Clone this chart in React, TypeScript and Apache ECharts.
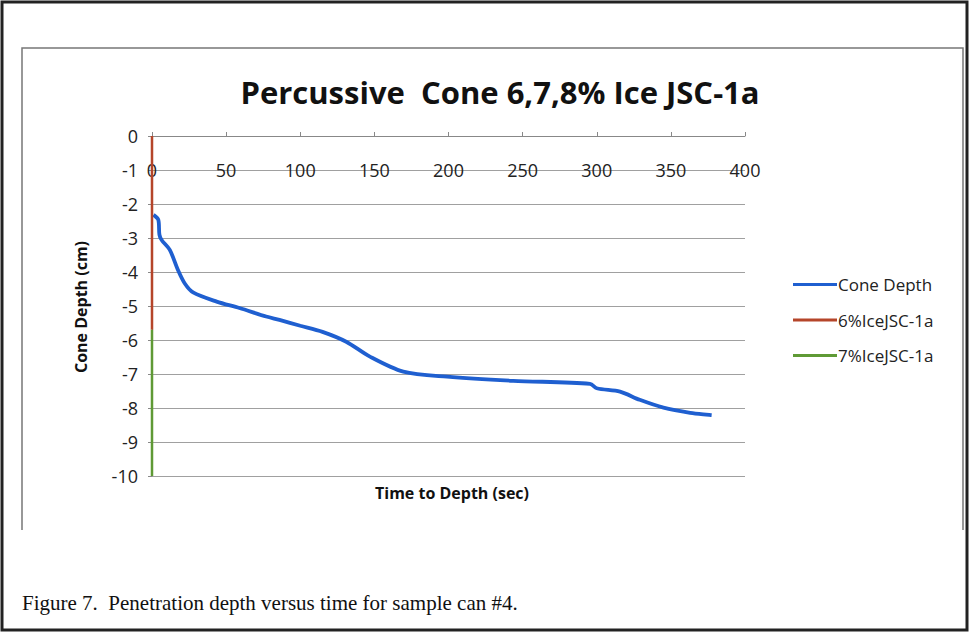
import React, { useEffect, useRef } from "react";
import * as echarts from "echarts";

const coneTime = [1, 4.3, 5, 6.5, 12, 17.5, 22, 27.7, 43.6, 59, 77, 86, 100, 115, 131, 147, 169.5, 199, 243.6, 295.5, 300, 315.7, 329, 345, 363, 377.5];
const coneDepth = [-2.32, -2.47, -2.9, -3.06, -3.35, -3.94, -4.33, -4.6, -4.87, -5.06, -5.31, -5.41, -5.58, -5.76, -6.05, -6.49, -6.93, -7.08, -7.2, -7.29, -7.42, -7.52, -7.76, -7.99, -8.14, -8.21];
const ice6Time = [0, 0];
const ice6Depth = [0, -5.7];
const ice7Time = [0, 0];
const ice7Depth = [-5.7, -10];
const seriesNames = ["Cone Depth", "6%IceJSC-1a", "7%IceJSC-1a"];
const seriesColors = ["#1f5fd0", "#b5452a", "#5f9a35"];

const FONT = "'Open Sans', 'Noto Sans', sans-serif";

export default function App() {
  const ref = useRef<HTMLDivElement>(null);
  useEffect(() => {
    if (!ref.current) return;
    const chart = echarts.init(ref.current, undefined, { renderer: "svg" });
    const zip = (xs: number[], ys: number[]) => xs.map((x, i) => [x, ys[i]]);
    chart.setOption({
      animation: false,
      backgroundColor: "#fff",
      textStyle: { fontFamily: FONT },
      grid: { left: 152, top: 136, width: 593, height: 340 },
      legend: {
        orient: "vertical",
        left: 788,
        top: 271,
        itemWidth: 44,
        itemHeight: 3,
        itemGap: 18.5,
        icon: "rect",
        textStyle: { fontFamily: FONT, fontSize: 17, color: "#222", padding: [0, 0, 0, -4] },
        data: seriesNames,
      },
      xAxis: {
        type: "value",
        min: 0,
        max: 400,
        interval: 50,
        position: "top",
        axisLine: { lineStyle: { color: "#888" } },
        axisTick: { show: true, inside: false, length: 4, lineStyle: { color: "#888" } },
        axisLabel: { inside: true, margin: 25, fontSize: 18, color: "#222", fontFamily: FONT },
        splitLine: { show: false },
      },
      yAxis: {
        type: "value",
        min: -10,
        max: 0,
        interval: 1,
        axisLine: { show: true, lineStyle: { color: "#888" } },
        axisTick: { show: true, length: 4, lineStyle: { color: "#888" } },
        axisLabel: { fontSize: 18, color: "#222", margin: 14, fontFamily: FONT },
        splitLine: { show: true, lineStyle: { color: "#a0a0a0", width: 1 } },
      },
      series: [
        {
          name: seriesNames[0],
          type: "line",
          data: zip(coneTime, coneDepth),
          showSymbol: false,
          smooth: 0.3,
          lineStyle: { width: 3.8, color: seriesColors[0] },
          itemStyle: { color: seriesColors[0] },
        },
        {
          name: seriesNames[1],
          type: "line",
          data: zip(ice6Time, ice6Depth),
          showSymbol: false,
          lineStyle: { width: 2.5, color: seriesColors[1] },
          itemStyle: { color: seriesColors[1] },
        },
        {
          name: seriesNames[2],
          type: "line",
          data: zip(ice7Time, ice7Depth),
          showSymbol: false,
          lineStyle: { width: 2.5, color: seriesColors[2] },
          itemStyle: { color: seriesColors[2] },
        },
      ],
      graphic: [
        {
          type: "rect",
          shape: { x: 2, y: 2, width: 965, height: 628 },
          style: { fill: "none", stroke: "#222", lineWidth: 3 },
          silent: true,
        },
        {
          type: "polyline",
          shape: { points: [[22, 530], [22, 48], [963, 48], [963, 530]] },
          style: { fill: "none", stroke: "#777", lineWidth: 1.5 },
          silent: true,
        },
        {
          type: "text",
          x: 500,
          y: 92,
          style: {
            text: "Percussive  Cone 6,7,8% Ice JSC-1a",
            fontFamily: FONT,
            fontWeight: "bold",
            fontSize: 31,
            fill: "#111",
            align: "center",
            verticalAlign: "middle",
          },
        },
        {
          type: "text",
          x: 452,
          y: 493,
          style: {
            text: "Time to Depth (sec)",
            fontFamily: FONT,
            fontWeight: "bold",
            fontSize: 16,
            fill: "#111",
            align: "center",
            verticalAlign: "middle",
          },
        },
        {
          type: "text",
          x: 81,
          y: 307,
          rotation: Math.PI / 2,
          style: {
            text: "Cone Depth (cm)",
            fontFamily: FONT,
            fontWeight: "bold",
            fontSize: 16,
            fill: "#111",
            align: "center",
            verticalAlign: "middle",
          },
        },
        {
          type: "text",
          x: 22,
          y: 603,
          style: {
            text: "Figure 7.  Penetration depth versus time for sample can #4.",
            fontFamily: "'Liberation Serif', 'DejaVu Serif', serif",
            fontSize: 21,
            fill: "#111",
            align: "left",
            verticalAlign: "middle",
          },
        },
      ],
    });
    return () => chart.dispose();
  }, []);
  return <div ref={ref} style={{ position: "fixed", left: 0, top: 0, width: 970, height: 633 }} />;
}
